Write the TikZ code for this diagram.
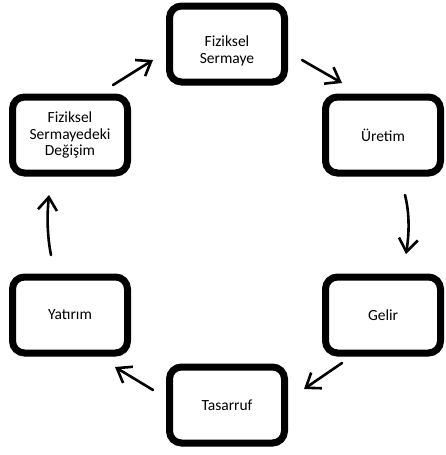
\documentclass[tikz,border=0pt]{standalone}
\usepackage{fontspec}
\setmainfont{Carlito}
\usetikzlibrary{arrows.meta,shadows.blur}
\begin{document}
\begin{tikzpicture}[x=1pt,y=-1pt,
  box/.style={draw=black, line width=7pt, rounded corners=12pt, fill=white,
    minimum width=115pt, minimum height=76pt, align=center,
    font=\fontsize{15.5}{16.7}\selectfont,
    blur shadow={shadow xshift=1pt, shadow yshift=-2.5pt, shadow blur steps=5, shadow opacity=25}},
  txt/.style={align=center, font=\fontsize{15.5}{16.7}\selectfont, inner sep=0pt},
  arr/.style={line width=2.6pt, line cap=round, line join=round,
    -{Straight Barb[length=13pt,width=19pt,line width=2.6pt]}}
]
\useasboundingbox (0,0) rectangle (445,455);
\node[box] (fs) at (227,44) {};
\node[txt] (fst) at (227,51) {Fiziksel\\Sermaye};
\node[box] (ur) at (383,135) {Üretim};
\node[box] (ge) at (383,315) {Gelir};
\node[box] (ta) at (227,405) {Tasarruf};
\node[box] (ya) at (70,315) {Yatırım};
\node[box] (fd) at (70,135) {Fiziksel\\Sermayedeki\\Değişim};

\coordinate (a1s) at (113,85);  \coordinate (a1e) at (153,60);
\coordinate (a2s) at (302,60);  \coordinate (a2e) at (342,83);
\coordinate (a3s) at (405,195); \coordinate (a3e) at (406,254);
\coordinate (a4s) at (342,363); \coordinate (a4e) at (304,389);
\coordinate (a5s) at (153,390); \coordinate (a5e) at (115,367);
\coordinate (a6s) at (51,255);  \coordinate (a6e) at (49,195);

\draw[arr] (a1s) -- (a1e);
\draw[arr] (a2s) -- (a2e);
\draw[arr] (a3s) .. controls (410,215) and (409,235) .. (a3e);
\draw[arr] (a4s) -- (a4e);
\draw[arr] (a5s) -- (a5e);
\draw[arr] (a6s) .. controls (47,235) and (47,215) .. (a6e);
\end{tikzpicture}
\end{document}
